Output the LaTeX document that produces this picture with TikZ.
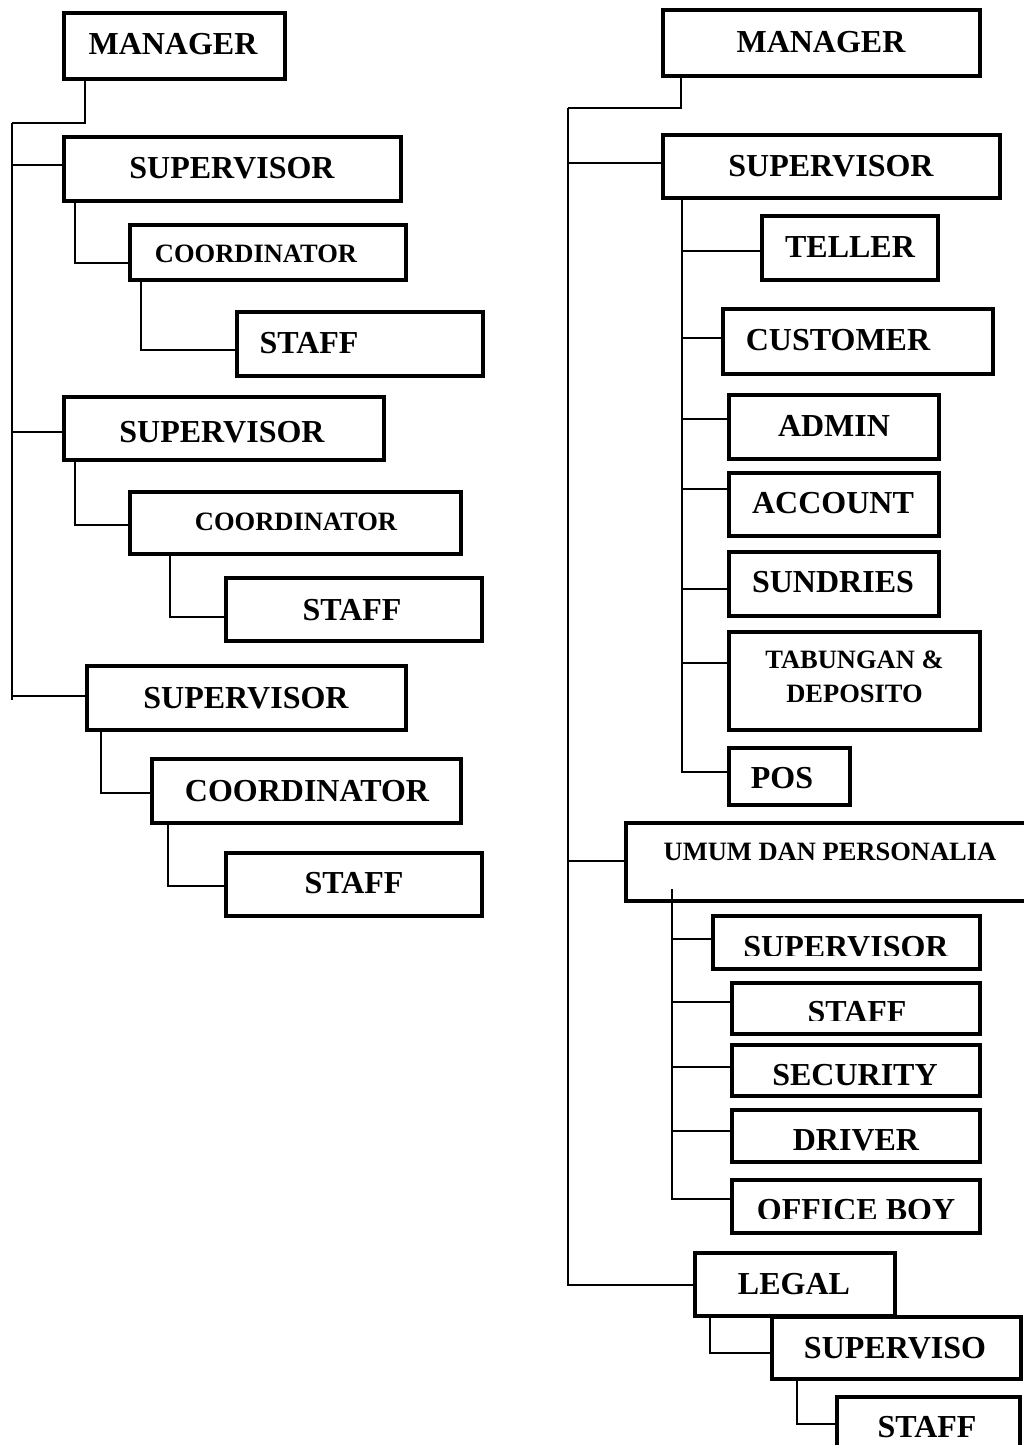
\documentclass[tikz,border=0pt]{standalone}
\usepackage{fontspec}
\setmainfont{Liberation Serif}
\tikzset{
  obox/.style={draw, rectangle, line width=4pt, inner sep=0pt},
  lbl/.style={inner sep=0pt, font=\fontsize{32}{36}\selectfont\bfseries},
  slbl/.style={inner sep=0pt, align=center, font=\fontsize{26.5}{34}\selectfont\bfseries},
  conn/.style={line width=1.5pt}
}
\newcommand\orgbox[5]{\node[obox, minimum width={(#4)-(#2)-4}, minimum height={(#5)-(#3)-4}] (#1) at ({((#2)+(#4))/2},{((#3)+(#5))/2}) {};}
\begin{document}
\begin{tikzpicture}[x=1pt,y=-1pt]
\useasboundingbox (0,0) rectangle (1024,1445);
\fill[white] (0,0) rectangle (1024,1445);
\clip (0,0) rectangle (1024,1445);
% ---------------- left chart: boxes
\orgbox{mgrL}{62}{11}{287}{81}
\orgbox{supLa}{62}{135}{403}{203}
\orgbox{coLa}{128}{223}{408}{282}
\orgbox{stLa}{235}{310}{485}{378}
\orgbox{supLb}{62}{395}{386}{462}
\orgbox{coLb}{128}{490}{463}{556}
\orgbox{stLb}{224}{576}{484}{643}
\orgbox{supLc}{85}{664}{408}{732}
\orgbox{coLc}{150}{757}{463}{825}
\orgbox{stLc}{224}{851}{484}{918}
% left labels
\node[lbl] (mgrL-t) at (173,44) {MANAGER};
\node[lbl] (supLa-t) at (232,168) {SUPERVISOR};
\node[slbl] (coLa-t) at (256,254) {COORDINATOR};
\node[lbl] (stLa-t) at (309,343) {STAFF};
\node[lbl] (supLb-t) at (222,432) {SUPERVISOR};
\node[slbl] (coLb-t) at (296,522) {COORDINATOR};
\node[lbl] (stLb-t) at (352,610) {STAFF};
\node[lbl] (supLc-t) at (246,698) {SUPERVISOR};
\node[lbl] (coLc-t) at (307,791) {COORDINATOR};
\node[lbl] (stLc-t) at (354,883) {STAFF};
% left connectors
\coordinate (LT1) at (12,123);
\coordinate (LT2) at (12,700);
\draw[conn] ([xshift=23pt]mgrL.south west) |- (LT1);
\draw[conn] (LT1) -- (LT2);
\draw[conn] ([yshift=4pt]supLa.west) -| (LT1);
\draw[conn] ([yshift=-3.5pt]supLb.west) -| (LT1);
\draw[conn] ([yshift=2pt]supLc.west) -| (LT1);
\draw[conn] ([xshift=13pt]supLa.south west) |- ([yshift=-10.5pt]coLa.west);
\draw[conn] ([xshift=13pt]coLa.south west) |- ([yshift=-6pt]stLa.west);
\draw[conn] ([xshift=13pt]supLb.south west) |- ([yshift=-2pt]coLb.west);
\draw[conn] ([xshift=42pt]coLb.south west) |- ([yshift=-7.5pt]stLb.west);
\draw[conn] ([xshift=16pt]supLc.south west) |- ([yshift=-2pt]coLc.west);
\draw[conn] ([xshift=18pt]coLc.south west) |- ([yshift=-1.5pt]stLc.west);
% ---------------- right chart: boxes
\orgbox{mgrR}{661}{8}{982}{78}
\orgbox{supR}{661}{133}{1002}{200}
\orgbox{teller}{760}{214}{940}{282}
\orgbox{cust}{721}{307}{995}{376}
\orgbox{admin}{727}{393}{941}{461}
\orgbox{acct}{727}{471}{941}{538}
\orgbox{sund}{727}{550}{941}{618}
\orgbox{tab}{727}{630}{982}{732}
\orgbox{pos}{727}{746}{852}{807}
\orgbox{umum}{624}{821}{1030}{903}
\orgbox{supU}{711}{914}{982}{971}
\orgbox{stU}{730}{981}{982}{1036}
\orgbox{secu}{730}{1043}{982}{1098}
\orgbox{driver}{730}{1108}{982}{1164}
\orgbox{office}{730}{1178}{982}{1235}
\orgbox{legal}{693}{1251}{897}{1318}
\orgbox{supG}{770}{1315}{1023}{1381}
\orgbox{stG}{835}{1395}{1022}{1462}
% right labels
\node[lbl] (mgrR-t) at (821,42) {MANAGER};
\node[lbl] (supR-t) at (831,166) {SUPERVISOR};
\node[lbl] (teller-t) at (850,247) {TELLER};
\node[lbl] (cust-t) at (838,340) {CUSTOMER};
\node[lbl] (admin-t) at (834,426) {ADMIN};
\node[lbl] (acct-t) at (833,503) {ACCOUNT};
\node[lbl] (sund-t) at (833,582) {SUNDRIES};
\node[slbl] (tab-t) at (854.5,677) {TABUNGAN \&\\DEPOSITO};
\node[lbl] (pos-t) at (782,778) {POS};
\node[slbl] (umum-t) at (830,852) {UMUM DAN PERSONALIA};
\begin{scope}
  \clip (700,900) rectangle (1000,955);
  \node[lbl] (supU-t) at (846,947) {SUPERVISOR};
\end{scope}
\begin{scope}
  \clip (700,985) rectangle (1000,1020);
  \node[lbl] (stU-t) at (857,1012) {STAFF};
\end{scope}
\node[lbl] (secu-t) at (855,1075) {SECURITY};
\node[lbl] (driver-t) at (856,1140) {DRIVER};
\begin{scope}
  \clip (700,1185) rectangle (1000,1218);
  \node[lbl] (office-t) at (856,1210) {OFFICE BOY};
\end{scope}
\node[lbl] (legal-t) at (794,1284) {LEGAL};
\node[lbl] (supG-t) at (895,1348) {SUPERVISO};
\node[lbl] (stG-t) at (927,1427) {STAFF};
% right connectors
\coordinate (RT1) at (568,108);
\coordinate (RS1) at ([xshift=21pt]supR.south west);
\coordinate (US1) at ([xshift=48pt,yshift=14pt]umum.south west);
\draw[conn] ([xshift=20pt]mgrR.south west) |- (RT1);
\draw[conn] (RT1) |- ([yshift=-0.5pt]legal.west);
\draw[conn] ([yshift=3.5pt]supR.west) -| (RT1);
\draw[conn] ([yshift=1pt]umum.west) -| (RT1);
\draw[conn] (RS1) |- ([yshift=4.5pt]pos.west);
\draw[conn] ([yshift=-3pt]teller.west) -| (RS1);
\draw[conn] ([yshift=3.5pt]cust.west) -| (RS1);
\draw[conn] ([yshift=8pt]admin.west) -| (RS1);
\draw[conn] ([yshift=15.5pt]acct.west) -| (RS1);
\draw[conn] ([yshift=-5pt]sund.west) -| (RS1);
\draw[conn] ([yshift=18pt]tab.west) -| (RS1);
\draw[conn] (US1) |- ([yshift=7.5pt]office.west);
\draw[conn] ([yshift=3.5pt]supU.west) -| (US1);
\draw[conn] ([yshift=6.5pt]stU.west) -| (US1);
\draw[conn] ([yshift=3.5pt]secu.west) -| (US1);
\draw[conn] ([yshift=5pt]driver.west) -| (US1);
\draw[conn] ([xshift=17pt]legal.south west) |- ([yshift=-5pt]supG.west);
\draw[conn] ([xshift=27pt]supG.south west) |- ([yshift=4.5pt]stG.west);
\end{tikzpicture}
\end{document}
